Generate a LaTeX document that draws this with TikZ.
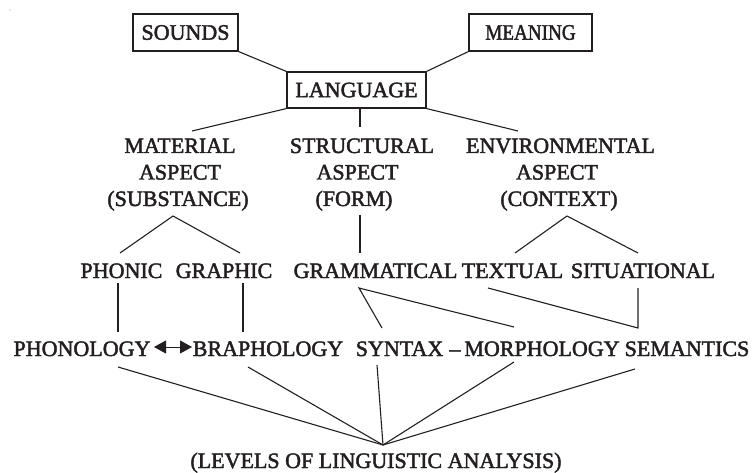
\documentclass[tikz,border=0pt]{standalone}
\usepackage{fontspec}
\setmainfont{Liberation Serif}
\usepackage{graphicx}
\usetikzlibrary{arrows.meta}
\definecolor{ink}{HTML}{231F20}
\newcommand\heavy[1]{\special{pdf:literal direct 2 Tr 0.45 w}#1\special{pdf:literal direct 0 Tr}}
\begin{document}
\begin{tikzpicture}[x=1pt,y=-1pt,
  every node/.style={text=ink,font=\fontsize{22}{26.5}\selectfont,inner sep=0pt},
  lbl/.style={anchor=base},
  boxnode/.style={draw=ink,line width=1.1pt,minimum height=37pt,anchor=center},
  conn/.style={draw=ink,line width=1.1pt,line join=miter},
  dbl/.style={draw=ink,line width=1pt,{Triangle[length=12pt,width=13pt]}-{Triangle[length=12pt,width=13pt]}}]
\useasboundingbox (0,0) rectangle (752,473);
\fill[ink!50] (10,10) circle[radius=0.6pt];

% boxes
\node[boxnode,minimum width=105pt] (sounds) at (185.5,32.5) {\heavy{SOUNDS}};
\node[boxnode,minimum width=123pt] (meaning) at (530.5,32.5) {\scalebox{0.87}[1]{\heavy{MEANING}}};
\node[boxnode,minimum width=139pt,minimum height=36pt] (lang) at (356.5,90) {\heavy{LANGUAGE}};

% aspects
\node[lbl] (mat1) at (180,153) {\heavy{MATERIAL}};
\node[lbl] (mat2) at (180,179.5) {\heavy{ASPECT}};
\node[lbl] (mat3) at (178,206) {\heavy{(SUBSTANCE)}};
\node[lbl] (str1) at (362,153) {\heavy{STRUCTURAL}};
\node[lbl] (str2) at (357.5,179.5) {\heavy{ASPECT}};
\node[lbl] (str3) at (354,206) {\heavy{(FORM)}};
\node[lbl] (env1) at (560.5,153) {\heavy{ENVIRONMENTAL}};
\node[lbl] (env2) at (557,179.5) {\heavy{ASPECT}};
\node[lbl] (env3) at (559,206) {\heavy{(CONTEXT)}};

% second row
\node[lbl] (phonic) at (121.5,278) {\heavy{PHONIC}};
\node[lbl] (graphic) at (224,278) {\heavy{GRAPHIC}};
\node[lbl] (gramm) at (375.5,278) {\heavy{GRAMMATICAL}};
\node[lbl] (textual) at (512.5,278) {\heavy{TEXTUAL}};
\node[lbl] (situ) at (643,278) {\heavy{SITUATIONAL}};

% third row
\node[lbl] (phonology) at (82,356) {\heavy{PHONOLOGY}};
\node[lbl] (brapho) at (268,356) {\heavy{BRAPHOLOGY}};
\node[lbl] (syntax) at (399.5,356) {\heavy{SYNTAX}};
\node[lbl] (dash) at (455,356) {\heavy{–}};
\node[lbl] (morph) at (542,356) {\heavy{MORPHOLOGY}};
\node[lbl] (seman) at (687,356) {\heavy{SEMANTICS}};

% bottom
\node[lbl] (levels) at (376,468) {\heavy{(LEVELS OF LINGUISTIC ANALYSIS)}};

% free ends
\coordinate (matTop) at (192,131);
\coordinate (strTop) at (360,127);
\coordinate (envTop) at (518,131);
\coordinate (matApex) at (173,216);
\coordinate (phonicTop) at (120,253);
\coordinate (graphicTop) at (240,253);
\coordinate (strBot) at (360,215);
\coordinate (grammTop) at (360,253);
\coordinate (envApex) at (567,216);
\coordinate (textualTop) at (515,253);
\coordinate (situTop) at (638,253);
\coordinate (phonicBot) at (118,283);
\coordinate (phonologyTop) at (118,332);
\coordinate (graphicBot) at (243,283);
\coordinate (braphoTop) at (243,332);
\coordinate (grammBot) at (359,288);
\coordinate (syntaxTop) at (382,328);
\coordinate (morphTop) at (514,327);
\coordinate (textualBot) at (488,288);
\coordinate (situBot) at (638,288);
\coordinate (semanTop) at (638,328);
\coordinate (phonologyBot) at (118,367);
\coordinate (braphoBot) at (248,367);
\coordinate (syntaxBot) at (377,365);
\coordinate (morphBot) at (514,362);
\coordinate (semanBot) at (635,369);
\coordinate (levelsTop) at (383,445);
\coordinate (arrL) at (154,347);
\coordinate (arrR) at (192,347);

% connectors
\draw[conn] (sounds.south east) -- (lang.north west);
\draw[conn] (meaning.south west) -- (lang.north east);
\draw[conn] (lang.south west) -- (matTop);
\draw[conn] (lang.south -| strTop) -- (strTop);
\draw[conn] (lang.south east) -- (envTop);
\draw[conn] (phonicTop) -- (matApex) -- (graphicTop);
\draw[conn] (strBot) -- (grammTop);
\draw[conn] (textualTop) -- (envApex) -- (situTop);
\draw[conn] (phonicBot) -- (phonologyTop);
\draw[conn] (graphicBot) -- (braphoTop);
\draw[conn] (syntaxTop) -- (grammBot) -- (morphTop);
\draw[conn] (textualBot) -- (semanTop) -- (situBot);
\foreach \s in {phonologyBot,braphoBot,syntaxBot,morphBot,semanBot}
  \draw[conn] (\s) -- (levelsTop);
\draw[dbl] (arrL) -- (arrR);
\end{tikzpicture}
\end{document}
